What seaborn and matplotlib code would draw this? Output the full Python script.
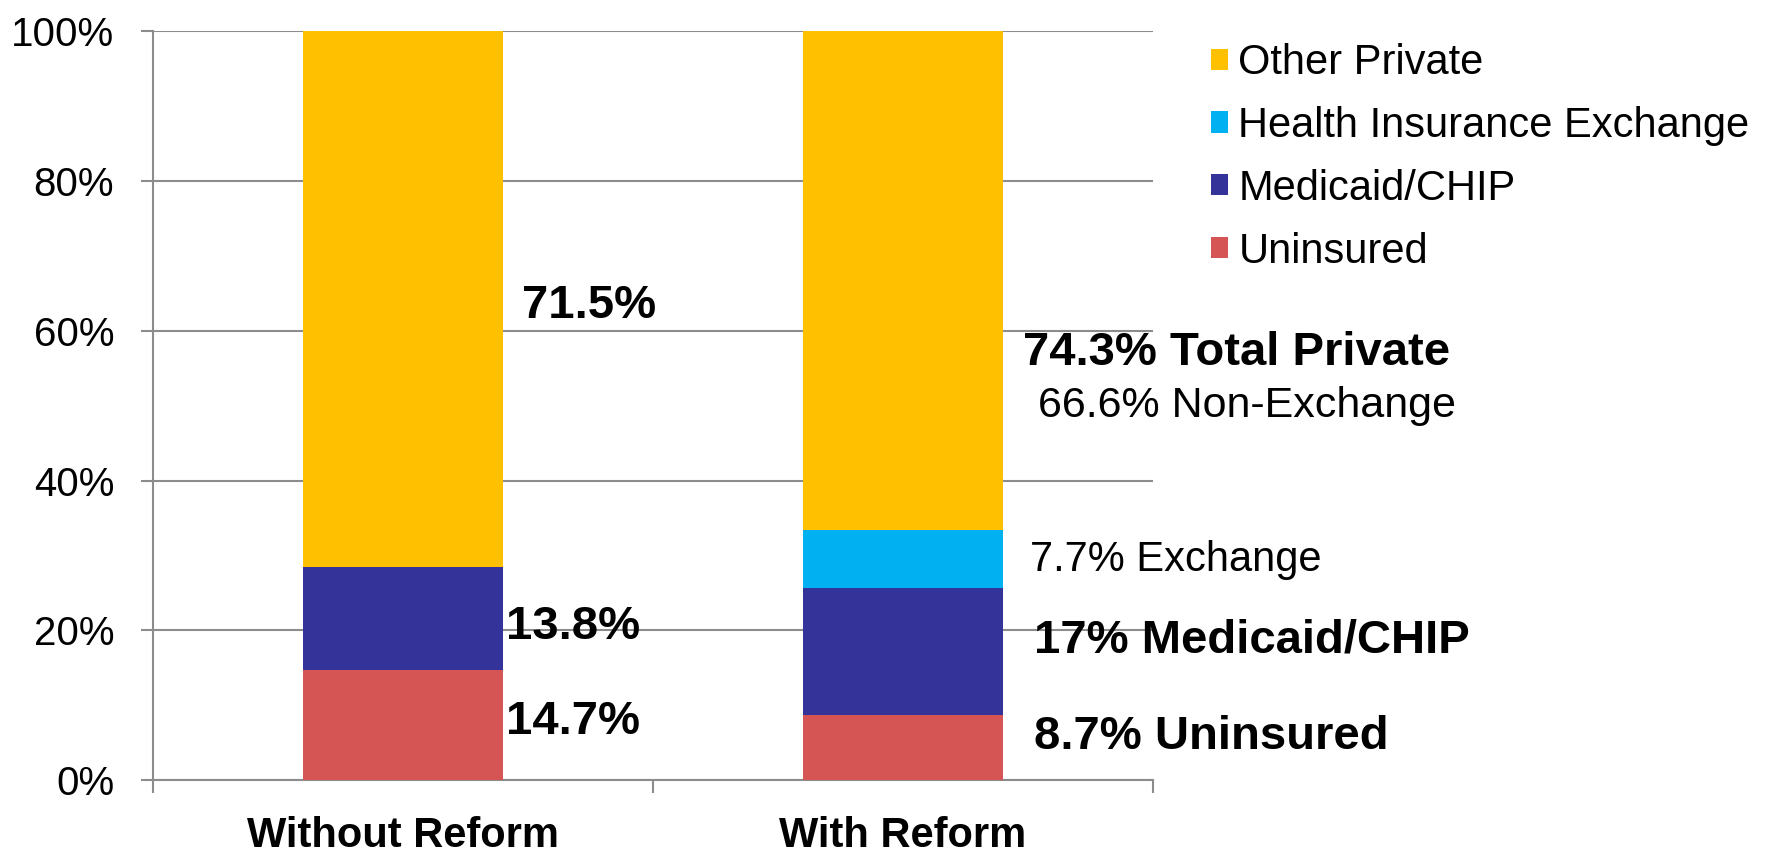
import pandas as pd
import seaborn as sns
import matplotlib.pyplot as plt
from matplotlib.patches import Patch

# Datos
categories = ["Without Reform", "With Reform"]
uninsured = [14.7, 8.7]
medicaid = [13.8, 17.0]
exchange = [0.0, 7.7]
other_private = [71.5, 66.6]

stack = ["Uninsured", "Medicaid/CHIP", "Health Insurance Exchange", "Other Private"]
legend_order = ["Other Private", "Health Insurance Exchange", "Medicaid/CHIP", "Uninsured"]
colors = {
    "Other Private": "#FFC000",
    "Health Insurance Exchange": "#00B0F0",
    "Medicaid/CHIP": "#333399",
    "Uninsured": "#D55555",
}

df = pd.DataFrame({
    "category": categories,
    "Uninsured": uninsured,
    "Medicaid/CHIP": medicaid,
    "Health Insurance Exchange": exchange,
    "Other Private": other_private,
})

sns.set_style("white")
plt.rcParams["font.family"] = ["Liberation Sans", "DejaVu Sans"]
plt.rcParams["text.color"] = "black"
plt.rcParams["xtick.labelcolor"] = "black"
plt.rcParams["ytick.labelcolor"] = "black"

gray = "#8c8c8c"
fig = plt.figure(figsize=(17.67, 8.48), dpi=100)
ax = fig.add_axes([0.0866, 0.0802, 0.5659, 0.8827])

# Barras apiladas
bottom = [0.0, 0.0]
for name in stack:
    sns.barplot(x=df["category"], y=df[name], order=categories, color=colors[name],
                saturation=1, width=0.4, errorbar=None, linewidth=0,
                bottom=list(bottom), ax=ax, zorder=3)
    bottom = [b + v for b, v in zip(bottom, df[name])]

# Ejes
ax.set_ylim(0, 100)
ax.set_xlim(-0.5, 1.5)
ax.set_yticks(range(0, 101, 20))
ax.set_yticklabels([f"{v}%" for v in range(0, 101, 20)])
ax.set_xlabel("")
ax.set_ylabel("")
ax.yaxis.grid(True, color=gray, linewidth=1.5)
ax.set_axisbelow(True)
for s in ["top", "right"]:
    ax.spines[s].set_visible(False)
for s in ["left", "bottom"]:
    ax.spines[s].set_color(gray)
    ax.spines[s].set_linewidth(1.5)

ax.set_xticks([-0.5, 0.5, 1.5], minor=True)
ax.tick_params(axis="x", which="minor", bottom=True, length=9, width=1.5, color=gray)
ax.tick_params(axis="x", which="major", bottom=True, length=0, pad=26, labelsize=30,
               labelcolor="black")
for lab in ax.get_xticklabels():
    lab.set_fontweight("bold")
ax.tick_params(axis="y", left=True, length=9, width=1.5, color=gray, pad=19, labelsize=29,
               labelcolor="black")

# Etiquetas
ax.text(0.238, 63.3, "71.5%", fontsize=34, fontweight="bold", va="center")
ax.text(0.206, 20.5, "13.8%", fontsize=34, fontweight="bold", va="center")
ax.text(0.206, 7.8, "14.7%", fontsize=34, fontweight="bold", va="center")
ax.text(1.24, 57.1, "74.3% Total Private", fontsize=34, fontweight="bold", va="center", clip_on=False)
ax.text(1.27, 50.0, "66.6% Non-Exchange", fontsize=31, va="center", clip_on=False)
ax.text(1.254, 29.4, "7.7% Exchange", fontsize=30, va="center", clip_on=False)
ax.text(1.263, 18.7, "17% Medicaid/CHIP", fontsize=34, fontweight="bold", va="center", clip_on=False)
ax.text(1.263, 5.7, "8.7% Uninsured", fontsize=34, fontweight="bold", va="center", clip_on=False)

# Leyenda
handles = [Patch(facecolor=colors[n], edgecolor="none") for n in legend_order]
fig.legend(handles, legend_order, loc="upper left", bbox_to_anchor=(0.6853, 0.9493),
           frameon=False, fontsize=30, handlelength=0.4, handleheight=0.4,
           handletextpad=0.26, labelspacing=0.55, borderpad=0, borderaxespad=0)

fig.savefig("out.png", dpi=100)
